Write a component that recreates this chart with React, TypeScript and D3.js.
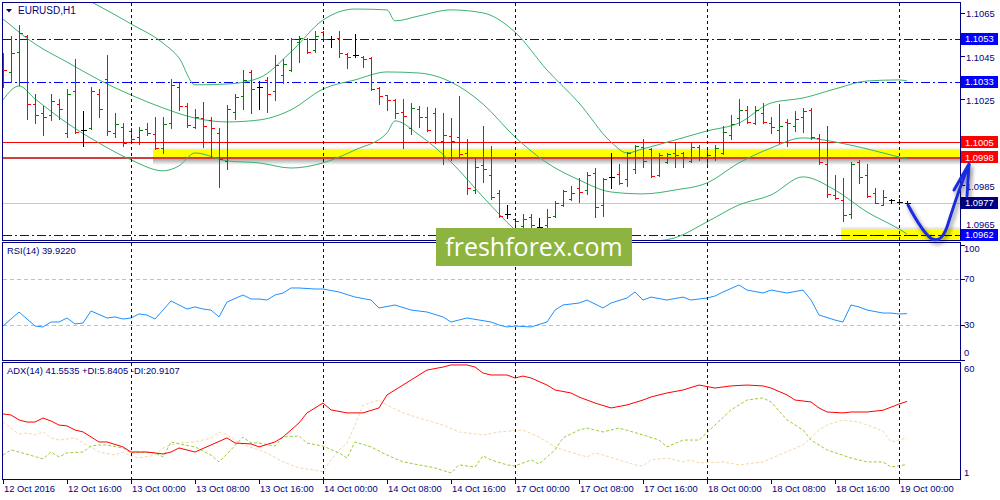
import React from 'react';
import * as d3 from 'd3';

// ---------- DATA ----------
const timeIdx = [0, 8, 16, 24, 32, 40, 48, 56, 64, 72, 80, 88, 96, 104, 112];
const timeLabels = ['12 Oct 2016', '12 Oct 16:00', '13 Oct 00:00', '13 Oct 08:00', '13 Oct 16:00', '14 Oct 00:00', '14 Oct 08:00', '14 Oct 16:00', '17 Oct 00:00', '17 Oct 08:00', '17 Oct 16:00', '18 Oct 00:00', '18 Oct 08:00', '18 Oct 16:00', '19 Oct 00:00'];
const dayStartIdx = [16, 40, 64, 88, 112];

const opens = [1.10451, 1.10377, 1.10470, 1.10544, 1.10228, 1.10187, 1.10177, 1.10228, 1.10094, 1.10289, 1.10108, 1.10117, 1.10275, 1.10344, 1.10094, 1.10122, 1.10103, 1.10075, 1.10112, 1.10089, 1.10024, 1.10140, 1.10307, 1.10219, 1.10122, 1.10163, 1.10154, 1.10094, 1.09964, 1.10191, 1.10266, 1.10377, 1.10307, 1.10340, 1.10289, 1.10363, 1.10386, 1.10516, 1.10530, 1.10479, 1.10562, 1.10530, 1.10535, 1.10460, 1.10456, 1.10446, 1.10442, 1.10303, 1.10270, 1.10247, 1.10191, 1.10117, 1.10205, 1.10168, 1.10187, 1.10057, 1.10080, 1.10075, 1.10001, 1.09829, 1.09945, 1.09899, 1.09815, 1.09718, 1.09695, 1.09662, 1.09704, 1.09658, 1.09667, 1.09709, 1.09760, 1.09788, 1.09839, 1.09829, 1.09908, 1.09760, 1.09890, 1.09904, 1.09880, 1.09927, 1.10029, 1.10020, 1.09899, 1.09959, 1.10001, 1.10001, 1.09964, 1.10029, 1.09982, 1.09982, 1.10001, 1.10085, 1.10163, 1.10201, 1.10140, 1.10187, 1.10140, 1.10108, 1.10145, 1.10126, 1.10168, 1.10201, 1.10071, 1.09950, 1.09806, 1.09783, 1.09718, 1.09959, 1.09899, 1.09815, 1.09760, 1.09783, 1.09774, 1.09769];
const highs = [1.10465, 1.10544, 1.10595, 1.10549, 1.10275, 1.10219, 1.10275, 1.10252, 1.10298, 1.10437, 1.10196, 1.10307, 1.10298, 1.10456, 1.10187, 1.10140, 1.10117, 1.10122, 1.10140, 1.10168, 1.10168, 1.10344, 1.10326, 1.10233, 1.10205, 1.10238, 1.10168, 1.10117, 1.10224, 1.10275, 1.10386, 1.10386, 1.10335, 1.10354, 1.10456, 1.10437, 1.10535, 1.10544, 1.10535, 1.10567, 1.10567, 1.10544, 1.10567, 1.10465, 1.10553, 1.10451, 1.10446, 1.10307, 1.10272, 1.10252, 1.10252, 1.10233, 1.10219, 1.10214, 1.10210, 1.10187, 1.10163, 1.10266, 1.10066, 1.09978, 1.10126, 1.10034, 1.09829, 1.09760, 1.09699, 1.09718, 1.09718, 1.09699, 1.09741, 1.09778, 1.09829, 1.09848, 1.09885, 1.09913, 1.09931, 1.09885, 1.10001, 1.09950, 1.10006, 1.10038, 1.10066, 1.10024, 1.10001, 1.10001, 1.10052, 1.10006, 1.10047, 1.10038, 1.10029, 1.10038, 1.10126, 1.10177, 1.10252, 1.10219, 1.10219, 1.10233, 1.10168, 1.10228, 1.10159, 1.10196, 1.10210, 1.10210, 1.10089, 1.10126, 1.09899, 1.09885, 1.09959, 1.09969, 1.09950, 1.09839, 1.09829, 1.09788, 1.09788, 1.09778];
const lows = [1.10307, 1.10330, 1.10317, 1.10159, 1.10140, 1.10085, 1.10154, 1.10159, 1.10075, 1.10094, 1.10034, 1.10110, 1.10168, 1.10085, 1.10075, 1.10034, 1.10052, 1.10043, 1.10085, 1.10020, 1.10001, 1.10117, 1.10201, 1.10122, 1.10117, 1.10029, 1.09987, 1.09843, 1.09927, 1.10159, 1.10205, 1.10187, 1.10205, 1.10191, 1.10247, 1.10326, 1.10382, 1.10423, 1.10465, 1.10470, 1.10525, 1.10493, 1.10446, 1.10395, 1.10446, 1.10400, 1.10295, 1.10228, 1.10201, 1.10163, 1.10024, 1.10089, 1.10122, 1.10103, 1.10047, 1.09950, 1.09969, 1.09982, 1.09811, 1.09815, 1.09866, 1.09788, 1.09704, 1.09699, 1.09662, 1.09644, 1.09653, 1.09634, 1.09653, 1.09704, 1.09755, 1.09783, 1.09774, 1.09811, 1.09704, 1.09709, 1.09839, 1.09857, 1.09848, 1.09908, 1.09936, 1.09888, 1.09894, 1.09955, 1.09936, 1.09936, 1.09959, 1.09969, 1.09941, 1.09969, 1.09996, 1.10066, 1.10131, 1.10140, 1.10136, 1.10140, 1.10094, 1.10047, 1.10034, 1.10103, 1.10098, 1.10068, 1.09950, 1.09797, 1.09788, 1.09686, 1.09699, 1.09862, 1.09795, 1.09769, 1.09760, 1.09769, 1.09764, 1.09760];
const closes = [1.10386, 1.10465, 1.10558, 1.10228, 1.10177, 1.10168, 1.10242, 1.10205, 1.10275, 1.10098, 1.10108, 1.10289, 1.10205, 1.10103, 1.10136, 1.10047, 1.10066, 1.10108, 1.10094, 1.10024, 1.10136, 1.10317, 1.10219, 1.10131, 1.10168, 1.10126, 1.10117, 1.09973, 1.10205, 1.10261, 1.10340, 1.10298, 1.10307, 1.10275, 1.10409, 1.10414, 1.10530, 1.10535, 1.10470, 1.10544, 1.10530, 1.10530, 1.10465, 1.10446, 1.10456, 1.10437, 1.10298, 1.10266, 1.10247, 1.10187, 1.10173, 1.10210, 1.10168, 1.10108, 1.10052, 1.10085, 1.10057, 1.09996, 1.09839, 1.09936, 1.09927, 1.09797, 1.09709, 1.09718, 1.09686, 1.09695, 1.09667, 1.09658, 1.09704, 1.09769, 1.09825, 1.09815, 1.09820, 1.09899, 1.09750, 1.09880, 1.09890, 1.09862, 1.10000, 1.10034, 1.09964, 1.09892, 1.09992, 1.09996, 1.09992, 1.09982, 1.10029, 1.09982, 1.09992, 1.10024, 1.10098, 1.10136, 1.10201, 1.10145, 1.10201, 1.10145, 1.10122, 1.10126, 1.10140, 1.10159, 1.10196, 1.10073, 1.09959, 1.09811, 1.09792, 1.09713, 1.09950, 1.09890, 1.09800, 1.09771, 1.09797, 1.09783, 1.09774, 1.09769];

const bbUpperIdx = [0, 4, 8, 12, 16, 20, 22, 24, 28, 32, 36, 40, 44, 48, 49, 52, 56, 60, 64, 68, 72, 76, 78, 80, 84, 88, 92, 96, 100, 104, 108, 112, 113];
const bbUpper = [1.10850, 1.10804, 1.10757, 1.10683, 1.10600, 1.10511, 1.10442, 1.10317, 1.10321, 1.10349, 1.10470, 1.10618, 1.10669, 1.10665, 1.10614, 1.10637, 1.10665, 1.10651, 1.10562, 1.10386, 1.10233, 1.10052, 1.10001, 1.10020, 1.10061, 1.10103, 1.10140, 1.10233, 1.10256, 1.10298, 1.10335, 1.10340, 1.10335];
const bbMiddleIdx = [0, 4, 8, 12, 16, 20, 24, 28, 32, 36, 40, 44, 48, 52, 56, 60, 64, 68, 72, 76, 80, 84, 88, 92, 96, 100, 104, 108, 112, 113];
const bbMiddle = [1.10623, 1.10507, 1.10423, 1.10340, 1.10270, 1.10210, 1.10163, 1.10145, 1.10154, 1.10201, 1.10298, 1.10340, 1.10377, 1.10372, 1.10330, 1.10228, 1.10075, 1.09955, 1.09876, 1.09820, 1.09811, 1.09829, 1.09862, 1.09955, 1.10024, 1.10071, 1.10052, 1.10020, 1.09982, 1.09973];
const bbLowerIdx = [0, 2, 4, 8, 12, 16, 20, 22, 24, 28, 32, 36, 40, 44, 48, 49, 52, 56, 60, 64, 68, 72, 76, 80, 84, 88, 92, 96, 100, 104, 108, 112, 113];
const bbLower = [1.10247, 1.10312, 1.10252, 1.10140, 1.10047, 1.09969, 1.09918, 1.09941, 1.10001, 1.09964, 1.09955, 1.09931, 1.09955, 1.10015, 1.10094, 1.10150, 1.10085, 1.09959, 1.09797, 1.09644, 1.09528, 1.09495, 1.09528, 1.09583, 1.09607, 1.09681, 1.09760, 1.09806, 1.09890, 1.09829, 1.09727, 1.09648, 1.09625];

const rsiIdx = [0, 2, 4, 5, 6, 7, 8, 9, 10, 11, 13, 14, 15, 16, 17, 18, 19, 20, 21, 23, 24, 25, 26, 27, 28, 30, 31, 32, 33, 34, 35, 36, 37, 39, 40, 42, 44, 46, 47, 49, 51, 53, 55, 56, 58, 61, 62, 63, 64, 66, 68, 69, 70, 72, 73, 75, 76, 78, 79, 80, 81, 83, 85, 86, 88, 89, 90, 92, 93, 95, 96, 98, 100, 101, 102, 104, 105, 106, 107, 108, 110, 111, 112, 113];
const rsiVal = [29.1, 41.3, 29.1, 28.3, 32.6, 32.6, 36.1, 30.9, 31.7, 42.2, 36.1, 37.0, 35.2, 36.1, 39.6, 38.7, 35.2, 43.0, 50.9, 43.9, 45.7, 43.9, 43.0, 37.0, 50.0, 56.1, 52.6, 52.6, 51.7, 56.1, 57.8, 62.2, 62.2, 61.3, 61.3, 58.7, 54.3, 51.7, 44.8, 47.4, 43.0, 41.3, 37.0, 32.6, 36.1, 32.6, 30.0, 28.3, 29.1, 28.3, 32.6, 43.0, 47.4, 49.1, 51.7, 44.8, 49.1, 53.5, 58.7, 51.7, 54.3, 51.7, 54.3, 51.7, 53.5, 55.2, 58.7, 64.8, 60.4, 57.8, 60.4, 57.8, 60.4, 51.7, 38.7, 34.3, 32.6, 47.4, 45.7, 43.0, 40.4, 40.4, 39.6, 39.9];
const rsiLevels = [70, 30];
const rsiScaleLabels = [100, 70, 30, 0];

const adxIdx = [0, 1, 2, 3, 4, 5, 6, 7, 8, 9, 10, 12, 13, 15, 16, 17, 18, 20, 21, 22, 24, 26, 28, 29, 31, 32, 34, 35, 37, 38, 40, 41, 43, 45, 47, 48, 50, 52, 53, 55, 56, 58, 59, 60, 61, 63, 64, 65, 66, 68, 69, 71, 72, 74, 76, 78, 80, 81, 82, 83, 85, 87, 89, 91, 93, 95, 96, 98, 99, 101, 102, 103, 105, 106, 108, 110, 112, 113];
const adxVal = [34.5, 33.9, 31.1, 29.9, 29.9, 32.2, 30.5, 28.2, 27.7, 25.4, 24.3, 18.6, 18.6, 15.8, 12.9, 12.9, 12.9, 11.8, 12.9, 15.2, 12.9, 16.9, 20.9, 18.0, 17.5, 15.8, 18.6, 21.4, 29.4, 35.1, 40.7, 36.8, 35.1, 35.1, 37.9, 45.3, 50.9, 56.6, 59.4, 61.1, 62.3, 62.3, 61.1, 57.7, 56.6, 56.6, 54.9, 56.0, 54.9, 50.9, 48.1, 46.4, 44.1, 40.7, 37.9, 39.6, 42.4, 44.1, 45.3, 46.4, 48.1, 50.9, 49.2, 50.4, 50.9, 50.4, 49.2, 45.3, 42.4, 41.3, 37.9, 35.6, 35.1, 35.6, 35.6, 36.6, 40.1, 41.6];
const pdiIdx = [0, 1, 2, 5, 6, 7, 8, 10, 11, 12, 13, 15, 16, 17, 19, 20, 21, 22, 24, 26, 27, 28, 30, 31, 32, 34, 35, 37, 38, 40, 42, 43, 44, 46, 48, 50, 52, 54, 56, 57, 59, 60, 61, 63, 64, 66, 67, 69, 70, 72, 73, 75, 77, 80, 82, 83, 85, 87, 89, 91, 93, 95, 96, 98, 100, 101, 103, 106, 108, 110, 111, 113];
const pdiVal = [11.2, 14.1, 12.9, 9.0, 12.9, 10.1, 12.4, 12.9, 16.3, 16.9, 16.9, 15.2, 12.4, 12.9, 12.4, 10.1, 18.6, 17.5, 15.8, 11.2, 7.3, 11.8, 21.4, 18.0, 18.0, 16.3, 21.4, 22.0, 18.0, 16.3, 12.4, 9.5, 18.6, 15.8, 11.2, 7.3, 5.6, 3.9, 1.0, 5.6, 4.4, 10.7, 8.4, 5.6, 5.0, 8.4, 6.1, 14.1, 20.9, 25.4, 26.5, 24.3, 26.5, 22.6, 19.7, 15.8, 19.7, 19.7, 28.2, 36.8, 42.4, 43.6, 41.3, 31.1, 25.4, 19.7, 14.1, 9.5, 7.3, 7.3, 4.4, 5.8];
const mdiIdx = [0, 2, 3, 4, 5, 6, 7, 9, 10, 11, 12, 14, 15, 16, 17, 19, 20, 21, 22, 24, 26, 27, 28, 29, 30, 32, 33, 35, 37, 39, 40, 41, 42, 43, 44, 45, 47, 48, 50, 52, 55, 57, 60, 62, 65, 67, 69, 70, 73, 74, 75, 77, 79, 80, 81, 83, 85, 86, 87, 90, 92, 95, 97, 100, 102, 103, 105, 107, 110, 111, 113];
const mdiVal = [29.9, 23.1, 23.7, 22.6, 24.3, 20.9, 19.7, 20.9, 18.0, 15.8, 12.9, 11.2, 12.9, 10.7, 9.5, 11.2, 15.2, 16.9, 18.0, 18.6, 20.9, 24.3, 22.6, 19.7, 16.9, 14.1, 12.4, 7.3, 3.9, 2.7, 1.6, 8.4, 14.1, 18.0, 28.2, 39.6, 42.4, 39.6, 35.1, 32.2, 28.2, 24.3, 22.6, 24.3, 25.4, 21.4, 15.8, 14.1, 10.1, 12.4, 11.2, 8.4, 5.6, 5.0, 8.4, 9.5, 7.3, 8.4, 6.7, 7.3, 5.6, 7.3, 11.2, 16.9, 25.4, 28.2, 31.1, 29.9, 24.8, 18.6, 20.9];
const adxScaleLabels = [60, 1];

const priceTicks = [1.1065, 1.1045, 1.1025, 1.1005, 1.0985, 1.0965];
const dashDotLevels = [1.1053, 1.1033, 1.0962];
const redLevels = [1.1005, 1.0998];
const bidPrice = 1.0977;
const zonePrices = [1.0998, 1.0962];
const zoneStartIdx = [19, 105];
const boxPrices = [1.1053, 1.1033, 1.1005, 1.0998, 1.0977, 1.0962];
const boxKinds = ['blue', 'blue', 'red', 'red', 'navy', 'blue'];

const titleMain = 'EURUSD,H1';
const titleRsi = 'RSI(14) 39.9220';
const titleAdx = 'ADX(14) 41.5535 +DI:5.8405 -DI:20.9107';
const watermark = 'freshforex.com';

// ---------- CHART ----------
const FONT = "Tahoma, 'Liberation Sans', Arial, sans-serif";
const NAVY = '#000080';
const FS = 9.4;

type P = [number, number];
const zip = (idx: number[], v: number[]): P[] => idx.map((k, j) => [k, v[j]] as P);

export default function App() {
  const L = 2.5, R = 960.5;
  const mainTop = 2.5, mainBot = 240.5;
  const rsiTop = 242.5, rsiBot = 360.5;
  const adxTop = 362.5, adxBot = 479.5;

  const x = d3.scaleLinear().domain([0, 113]).range([3, 907]);
  const yP = d3.scaleLinear().domain([1.09597, 1.10697]).range([240, 3]);
  const yR = d3.scaleLinear().domain([0, 100]).range([359.5, 244.5]);
  const yA = d3.scaleLinear().domain([1, 60]).range([473, 369]);
  const px = (v: number) => Math.round(v) + 0.5;

  const band = d3.line<P>().x(d => x(d[0])).y(d => yP(d[1])).curve(d3.curveMonotoneX);
  const rsiLine = d3.line<P>().x(d => x(d[0])).y(d => yR(d[1]));
  const adxLine = d3.line<P>().x(d => x(d[0])).y(d => yA(d[1]));

  const bars = opens.map((o, i) => {
    const c = closes[i];
    const col = c > o ? '#008000' : c < o ? '#FF0000' : '#000000';
    const xi = px(x(i));
    return (
      <g key={'b' + i} stroke={col} strokeWidth={1} shapeRendering="crispEdges">
        <line x1={xi} x2={xi} y1={Math.round(yP(highs[i]))} y2={Math.round(yP(lows[i])) + 1} />
        <line x1={xi - 3} x2={xi} y1={px(yP(o))} y2={px(yP(o))} />
        <line x1={xi} x2={xi + 3.5} y1={px(yP(c))} y2={px(yP(c))} />
      </g>
    );
  });

  const boxColor: Record<string, string> = { blue: '#0000FF', red: '#FF0000', navy: '#000080' };
  const bandColor = '#3CB371';

  // keep tick labels clear of the value boxes (the reference shows them partly covered)
  const tickLabelY = (p: number) => {
    let yy = yP(p) + 1;
    boxPrices.forEach(b => {
      const by = yP(b);
      if (Math.abs(by - yy) < 10 && Math.abs(by - yy) > 2) yy = by > yy ? by - 10 : by + 10;
    });
    return yy;
  };

  return (
    <svg width={1000} height={500} style={{ position: 'absolute', left: 0, top: 0 }} fontFamily={FONT}>
      <defs>
        <clipPath id="clipMain"><rect x={3} y={3} width={957} height={237} /></clipPath>
        <clipPath id="clipRsi"><rect x={3} y={243} width={957} height={117} /></clipPath>
        <clipPath id="clipAdx"><rect x={3} y={363} width={957} height={116} /></clipPath>
        <linearGradient id="shadow" x1="0" y1="0" x2="0" y2="1">
          <stop offset="0" stopColor="#000" stopOpacity="0.35" />
          <stop offset="1" stopColor="#000" stopOpacity="0" />
        </linearGradient>
        <linearGradient id="shadowUp" x1="0" y1="1" x2="0" y2="0">
          <stop offset="0" stopColor="#000" stopOpacity="0.12" />
          <stop offset="1" stopColor="#000" stopOpacity="0" />
        </linearGradient>
        <filter id="arrowSh" x="-20%" y="-20%" width="150%" height="150%">
          <feDropShadow dx="2" dy="3" stdDeviation="2" floodColor="#000" floodOpacity="0.45" />
        </filter>
      </defs>
      <rect x={0} y={0} width={1000} height={500} fill="#fff" />

      {/* main panel */}
      <g clipPath="url(#clipMain)">
        {zonePrices.map((p, k) => {
          const yy = yP(p);
          const x0 = x(zoneStartIdx[k]) - 2;
          const top = k === 0 ? yy - 7.5 : yy - 6;
          const bot = k === 0 ? yy + 0.5 : yy + 5;
          return (
            <g key={'z' + k}>
              <rect x={x0} y={top - 3} width={R - x0} height={3} fill="url(#shadowUp)" />
              <rect x={x0} y={top} width={R - x0} height={bot - top} fill="#FFFF00" />
              <rect x={x0} y={bot + 1} width={R - x0} height={6} fill="url(#shadow)" />
            </g>
          );
        })}
        <line x1={L} x2={R} y1={px(yP(bidPrice))} y2={px(yP(bidPrice))} stroke="#C8C8C8" strokeWidth={1} shapeRendering="crispEdges" />
        {dashDotLevels.map((p, k) => (
          <line key={'dd' + k} x1={L} x2={R} y1={px(yP(p))} y2={px(yP(p))} stroke="#0000FF" strokeWidth={1} strokeDasharray="9,3,2,3" shapeRendering="crispEdges" />
        ))}
        <line x1={x(zoneStartIdx[1]) - 2} x2={R} y1={px(yP(zonePrices[1]))} y2={px(yP(zonePrices[1]))} stroke="#000" strokeWidth={1} strokeDasharray="9,3,2,3" shapeRendering="crispEdges" />
        {redLevels.map((p, k) => (
          <line key={'rl' + k} x1={L} x2={R} y1={px(yP(p)) + (k === 1 ? 0.5 : 0)} y2={px(yP(p)) + (k === 1 ? 0.5 : 0)} stroke={k === 1 ? '#C00000' : '#FF0000'} strokeWidth={k === 1 ? 1.6 : 1} />
        ))}
        <path d={band(zip(bbUpperIdx, bbUpper)) || ''} fill="none" stroke={bandColor} strokeWidth={1} />
        <path d={band(zip(bbMiddleIdx, bbMiddle)) || ''} fill="none" stroke={bandColor} strokeWidth={1} />
        <path d={band(zip(bbLowerIdx, bbLower)) || ''} fill="none" stroke={bandColor} strokeWidth={1} />
        {bars}
      </g>

      {/* RSI */}
      <g clipPath="url(#clipRsi)">
        {rsiLevels.map((v, k) => (
          <line key={'rv' + k} x1={L} x2={R} y1={px(yR(v))} y2={px(yR(v))} stroke="#C0C0C0" strokeDasharray="4,3" shapeRendering="crispEdges" />
        ))}
        <path d={rsiLine(zip(rsiIdx, rsiVal)) || ''} fill="none" stroke="#1E90FF" strokeWidth={1} />
      </g>

      {/* ADX */}
      <g clipPath="url(#clipAdx)">
        <path d={adxLine(zip(mdiIdx, mdiVal)) || ''} fill="none" stroke="#F5D7A8" strokeWidth={1} strokeDasharray="3,2" />
        <path d={adxLine(zip(pdiIdx, pdiVal)) || ''} fill="none" stroke="#9ACD32" strokeWidth={1} strokeDasharray="3,2" />
        <path d={adxLine(zip(adxIdx, adxVal)) || ''} fill="none" stroke="#FF0000" strokeWidth={1} />
      </g>

      {/* day separators */}
      {dayStartIdx.map((i, k) => (
        <line key={'vd' + k} x1={px(x(i))} x2={px(x(i))} y1={3} y2={479} stroke={NAVY} strokeWidth={1} strokeDasharray="3,3" shapeRendering="crispEdges" />
      ))}

      {/* frames */}
      <g fill="none" stroke={NAVY} strokeWidth={1} shapeRendering="crispEdges">
        <rect x={L} y={mainTop} width={R - L} height={mainBot - mainTop} />
        <rect x={L} y={rsiTop} width={R - L} height={rsiBot - rsiTop} />
        <rect x={L} y={adxTop} width={R - L} height={adxBot - adxTop} />
      </g>

      {/* right axis */}
      {priceTicks.map((p, k) => (
        <g key={'pt' + k}>
          <line x1={R} x2={R + 4} y1={px(yP(p))} y2={px(yP(p))} stroke={NAVY} shapeRendering="crispEdges" />
          <text x={966} y={tickLabelY(p)} dy="0.35em" fontSize={FS} fill={NAVY}>{p.toFixed(4)}</text>
        </g>
      ))}
      {rsiScaleLabels.map((v, k) => {
        const yy = Math.min(Math.max(yR(v), 249), 353);
        return (
          <g key={'rs' + k}>
            <line x1={R} x2={R + 4} y1={px(yR(v))} y2={px(yR(v))} stroke={NAVY} shapeRendering="crispEdges" />
            <text x={964} y={yy} dy="0.35em" fontSize={FS} fill={NAVY}>{v}</text>
          </g>
        );
      })}
      {adxScaleLabels.map((v, k) => (
        <g key={'as' + k}>
          <text x={964} y={yA(v)} dy="0.35em" fontSize={FS} fill={NAVY}>{v}</text>
        </g>
      ))}
      {boxPrices.map((p, k) => {
        const yy = yP(p);
        return (
          <g key={'bx' + k}>
            <rect x={961} y={Math.round(yy) - 6} width={37} height={12} fill={boxColor[boxKinds[k]]} />
            <text x={965} y={yy} dy="0.35em" fontSize={FS} fill="#fff">{p.toFixed(4)}</text>
          </g>
        );
      })}

      {/* time axis */}
      {timeIdx.map((i, k) => (
        <g key={'tx' + k}>
          <line x1={px(x(i))} x2={px(x(i))} y1={479} y2={484} stroke={NAVY} shapeRendering="crispEdges" />
          <text x={x(i) + 1} y={492} fontSize={FS} fill={NAVY}>{timeLabels[k]}</text>
        </g>
      ))}

      {/* titles */}
      <path d="M6,9 L12,9 L9,12.5 Z" fill={NAVY} />
      <text x={18} y={14} fontSize={FS + 0.6} fill={NAVY}>{titleMain}</text>
      <text x={7} y={254} fontSize={FS} fill={NAVY}>{titleRsi}</text>
      <text x={7} y={374} fontSize={FS} fill={NAVY}>{titleAdx}</text>

      {/* watermark */}
      <rect x={436} y={228} width={196} height={38} fill="#8DB440" />
      <text x={534} y={256} fontSize={25} fill="#fff" textAnchor="middle" fontFamily="'Open Sans', 'Noto Sans', sans-serif">{watermark}</text>

      {/* hand-drawn arrow */}
      <g filter="url(#arrowSh)" fill="none" stroke="#1A2BE0" strokeWidth={3} strokeLinecap="round" strokeLinejoin="round">
        <path d="M908,205 C916,220 924,234 932,239 C939,242 944,237 948,224 C953,208 960,186 969,165" />
        <path d="M954,190 L969,164 L967,196" />
      </g>
    </svg>
  );
}
